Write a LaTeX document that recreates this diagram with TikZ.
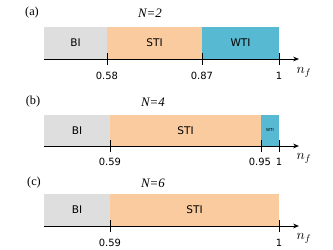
\documentclass[tikz,border=0pt]{standalone}
\usepackage{fontspec}
\usepackage{xcolor}
\setmainfont{Liberation Serif}
\newfontfamily\regionfont{DejaVu Sans}
\newfontfamily\tickfont{DejaVu Sans}
\usetikzlibrary{arrows.meta}
\definecolor{biGray}{HTML}{DEDEDE}
\definecolor{stiPeach}{HTML}{F9CB9F}
\definecolor{wtiBlue}{HTML}{58B9D2}
\begin{document}
\begin{tikzpicture}[x=0.03cm,y=-0.03cm,
  lbl/.style={font=\regionfont\fontsize{9}{10}\selectfont},
  ticklbl/.style={font=\tickfont\fontsize{8.5}{10}\selectfont},
  panel/.style={font=\fontsize{10.5}{12}\selectfont},
  nlbl/.style={font=\itshape\fontsize{11}{12}\selectfont},
  nflbl/.style={font=\fontsize{12}{14}\selectfont},
  axis/.style={thick,-{Stealth[length=5pt,width=4pt]}},
  tickmark/.style={thick}]
  \useasboundingbox (0,0) rectangle (333,250);
  % ── (a) N=2 ────────────────────────────────────────
  \node[panel] (labA) at (32,13) {(a)};
  \node[nlbl]  (numA) at (150,13) {N=2};
  \fill[biGray]   (44,27)  rectangle (107,59);
  \fill[stiPeach] (107,27) rectangle (202,59);
  \fill[wtiBlue]  (202,27) rectangle (279,59);
  \node[lbl] (biA)  at (75.5,43)  {BI};
  \node[lbl] (stiA) at (154.5,43) {STI};
  \node[lbl] (wtiA) at (240.5,43) {WTI};
  \coordinate (axA0) at (44,59);
  \coordinate (axA1) at (299,59);
  \draw[axis] (axA0) -- (axA1);
  \draw[tickmark] (107,53) -- (107,65);
  \draw[tickmark] (202,53) -- (202,65);
  \draw[tickmark] (279,53) -- (279,65);
  \node[ticklbl] (tA1) at (107,76) {0.58};
  \node[ticklbl] (tA2) at (202,76) {0.87};
  \node[ticklbl] (tA3) at (279,76) {1};
  \node[nflbl]   (nfA) at (304,72) {$n_f$};
  % ── (b) N=4 ────────────────────────────────────────
  \node[panel] (labB) at (33,102) {(b)};
  \node[nlbl]  (numB) at (153,102) {N=4};
  \fill[biGray]   (44,115)  rectangle (110,146);
  \fill[stiPeach] (110,115) rectangle (261,146);
  \fill[wtiBlue]  (261,115) rectangle (279,146);
  \node[lbl] (biB)  at (77,130.5)  {BI};
  \node[lbl] (stiB) at (185.5,130.5) {STI};
  \node[font=\regionfont\fontsize{3.5}{4}\selectfont] (wtiB) at (270,130.5) {WTI};
  \coordinate (axB0) at (44,146);
  \coordinate (axB1) at (299,146);
  \draw[axis] (axB0) -- (axB1);
  \draw[tickmark] (110,140) -- (110,152);
  \draw[tickmark] (261,140) -- (261,152);
  \draw[tickmark] (279,140) -- (279,152);
  \node[ticklbl] (tB1) at (110,162) {0.59};
  \node[ticklbl] (tB2) at (260,162) {0.95};
  \node[ticklbl] (tB3) at (279,162) {1};
  \node[nflbl]   (nfB) at (304,158) {$n_f$};
  % ── (c) N=6 ────────────────────────────────────────
  \node[panel] (labC) at (34,183) {(c)};
  \node[nlbl]  (numC) at (153,183) {N=6};
  \fill[biGray]   (44,194)  rectangle (110,226);
  \fill[stiPeach] (110,194) rectangle (279,226);
  \node[lbl] (biC)  at (77,210)  {BI};
  \node[lbl] (stiC) at (194.5,210) {STI};
  \coordinate (axC0) at (44,226);
  \coordinate (axC1) at (299,226);
  \draw[axis] (axC0) -- (axC1);
  \draw[tickmark] (110,220) -- (110,232);
  \draw[tickmark] (279,220) -- (279,232);
  \node[ticklbl] (tC1) at (110,243) {0.59};
  \node[ticklbl] (tC2) at (279,243) {1};
  \node[nflbl]   (nfC) at (304,238) {$n_f$};
\end{tikzpicture}
\end{document}
